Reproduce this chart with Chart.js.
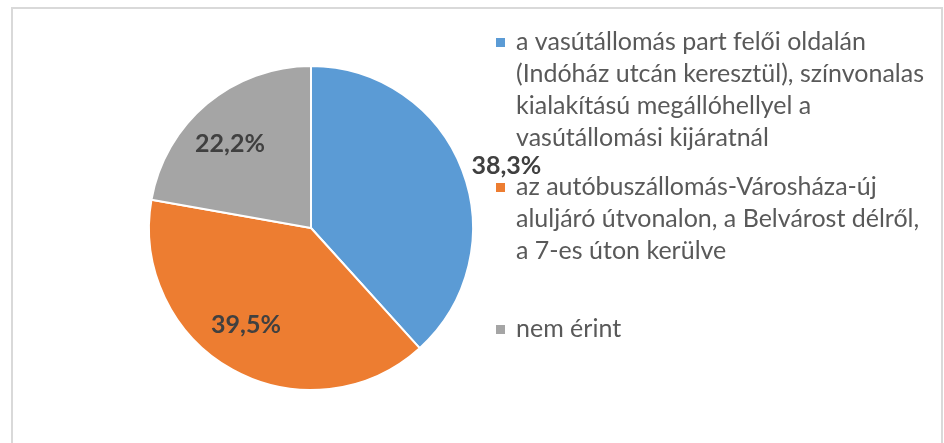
<!DOCTYPE html>
<html><head><meta charset="utf-8">
<script src="https://cdn.jsdelivr.net/npm/chart.js@4"></script>
<style>html,body{margin:0;padding:0;background:#fff}#wrap{position:relative;width:944px;height:443px}</style>
</head><body><div id="wrap"><canvas id="c" width="944" height="443"></canvas></div>
<script>
const categories = [
  ["a vasútállomás part felői oldalán", "(Indóház utcán keresztül), színvonalas", "kialakítású megállóhellyel a", "vasútállomási kijáratnál"],
  ["az autóbuszállomás-Városháza-új", "aluljáró útvonalon, a Belvárost délről,", "a 7-es úton kerülve"],
  ["nem érint"]
];
const values = [38.3, 39.5, 22.2];
const colors = ["#5B9BD5", "#ED7D31", "#A5A5A5"];

const FONT = "Lato, 'Open Sans', sans-serif";
const fmt = v => v.toFixed(1).replace('.', ',') + '%';

const custom = {
  id: 'custom',
  beforeDraw(chart) {
    const ctx = chart.ctx;
    ctx.save();
    ctx.fillStyle = '#fff';
    ctx.fillRect(0, 0, chart.width, chart.height);
    ctx.strokeStyle = '#d9d9d9';
    ctx.lineWidth = 2;
    ctx.strokeRect(12, 8, 930, 500);
    ctx.restore();
  },
  afterDatasetsDraw(chart) {
    const ctx = chart.ctx;
    const meta = chart.getDatasetMeta(0);
    ctx.save();
    ctx.fillStyle = '#404040';
    ctx.font = "bold 25px " + FONT;
    meta.data.forEach((arc, i) => {
      const p = arc.getProps(['x', 'y', 'startAngle', 'endAngle', 'outerRadius'], true);
      const mid = (p.startAngle + p.endAngle) / 2;
      const txt = fmt(chart.data.datasets[0].data[i]);
      ctx.textBaseline = 'middle';
      if (i === 0) {
        const r = p.outerRadius + 10;
        ctx.textAlign = 'left';
        ctx.fillText(txt, p.x + Math.cos(mid) * r, p.y + Math.sin(mid) * r);
      } else {
        // nudge toward the left side, like Excel's best-fit placement
        const a = mid + (Math.PI - mid) * 0.08;
        const r = p.outerRadius * 0.72;
        ctx.textAlign = 'center';
        ctx.fillText(txt, p.x + Math.cos(a) * r, p.y + Math.sin(a) * r);
      }
    });
    ctx.restore();
  },
  afterDraw(chart) {
    const ctx = chart.ctx;
    const firstBaselines = [50, 195, 337];
    const lineH = 32;
    ctx.save();
    ctx.font = "25px " + FONT;
    ctx.textAlign = 'left';
    ctx.textBaseline = 'alphabetic';
    chart.data.labels.forEach((lines, i) => {
      const b = firstBaselines[i];
      ctx.fillStyle = chart.data.datasets[0].backgroundColor[i];
      ctx.fillRect(496, b - 12, 9, 9);
      ctx.fillStyle = '#595959';
      lines.forEach((ln, j) => ctx.fillText(ln, 516, b + j * lineH));
    });
    ctx.restore();
  }
};

new Chart(document.getElementById('c'), {
  type: 'pie',
  data: {
    labels: categories,
    datasets: [{
      data: values,
      backgroundColor: colors,
      borderColor: '#ffffff',
      borderWidth: 2
    }]
  },
  options: {
    responsive: false,
    animation: false,
    layout: { padding: { left: 148, right: 470, top: 65, bottom: 52 } },
    plugins: { legend: { display: false }, tooltip: { enabled: false } }
  },
  plugins: [custom]
});
</script>
</body></html>
